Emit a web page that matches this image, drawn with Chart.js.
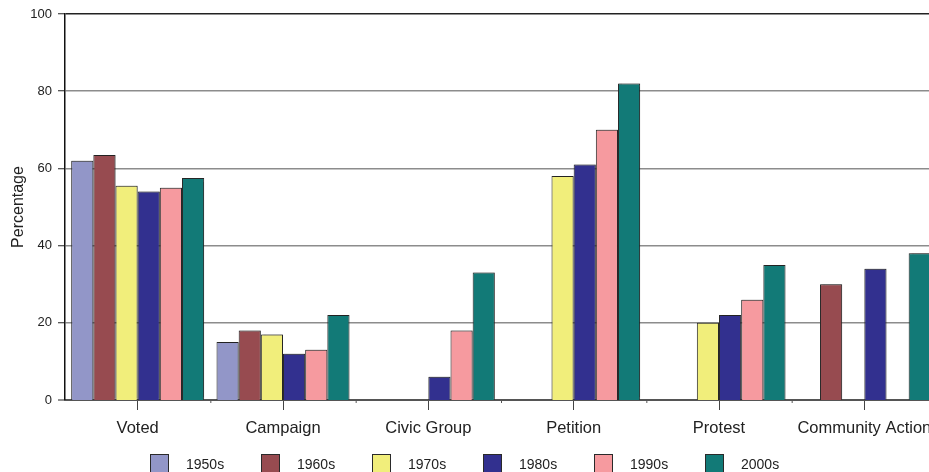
<!DOCTYPE html>
<html>
<head>
<meta charset="utf-8">
<script src="https://cdn.jsdelivr.net/npm/chart.js@4/dist/chart.umd.min.js"></script>
<style>
  html, body { margin: 0; padding: 0; background: #fff; overflow: hidden; width: 929px; height: 472px; }
  #wrap { position: relative; width: 929px; height: 472px; overflow: hidden; }
  canvas { position: absolute; left: 0; top: 0; }
  .lg { position: absolute; top: 454px; height: 20px; font: 14px "Liberation Sans", Arial, sans-serif; color: #222; white-space: nowrap; }
  .lg .box { position: absolute; left: 0; top: 0; width: 19px; height: 19px; border: 1px solid #2a2a2a; box-sizing: border-box; }
  .lg .txt { position: absolute; left: 36px; top: 2px; line-height: 16px; }
</style>
</head>
<body>
<div id="wrap">
  <canvas id="c" width="960" height="472"></canvas>
  <div id="legend"></div>
</div>
<script>
const categories = ["Voted", "Campaign", "Civic Group", "Petition", "Protest", "Community Action"];
const seriesNames = ["1950s", "1960s", "1970s", "1980s", "1990s", "2000s"];
const v1950s = [62, 15, null, null, null, null];
const v1960s = [63.5, 18, null, null, null, 30];
const v1970s = [55.5, 17, null, 58, 20, null];
const v1980s = [54, 12, 6, 61, 22, 34];
const v1990s = [55, 13, 18, 70, 26, null];
const v2000s = [57.5, 22, 33, 82, 35, 38];
const yTicks = [0, 20, 40, 60, 80, 100];
const colors = ["#9296C8", "#974B50", "#F1EE7B", "#32308F", "#F69A9F", "#127A77"];

const seriesValues = [v1950s, v1960s, v1970s, v1980s, v1990s, v2000s];

const datasets = seriesNames.map((name, i) => ({
  label: name,
  data: seriesValues[i],
  backgroundColor: colors[i],
  borderColor: "#2a2a2a",
  borderWidth: 1,
  borderSkipped: "bottom",
  categoryPercentage: 0.915,
  barPercentage: 1.0
}));

const shadowPlugin = {
  id: "barShadow",
  beforeDatasetsDraw(chart) {
    const ctx = chart.ctx;
    ctx.save();
    ctx.shadowColor = "rgba(0,0,0,0.30)";
    ctx.shadowBlur = 1.5;
    ctx.shadowOffsetX = 1;
    ctx.shadowOffsetY = -1;
  },
  afterDatasetsDraw(chart) {
    chart.ctx.restore();
  }
};

const boundaryTicks = {
  id: "boundaryTicks",
  afterDraw(chart) {
    const x = chart.scales.x, ctx = chart.ctx;
    const bottom = chart.chartArea.bottom;
    ctx.save();
    ctx.strokeStyle = "#555";
    ctx.lineWidth = 1;
    for (let i = 1; i < categories.length; i++) {
      const px = (x.getPixelForTick(i - 1) + x.getPixelForTick(i)) / 2;
      ctx.beginPath();
      ctx.moveTo(px + 0.5, bottom);
      ctx.lineTo(px + 0.5, bottom + 3);
      ctx.stroke();
    }
    ctx.restore();
  }
};

new Chart(document.getElementById("c"), {
  type: "bar",
  data: { labels: categories, datasets: datasets },
  plugins: [shadowPlugin, boundaryTicks],
  options: {
    responsive: false,
    animation: false,
    devicePixelRatio: 1,
    layout: { padding: { left: 0, right: 23, top: 14, bottom: 32 } },
    plugins: { legend: { display: false }, tooltip: { enabled: false } },
    scales: {
      x: {
        grid: { display: true, drawOnChartArea: false, drawTicks: true, tickLength: 10, offset: false, color: "#444", lineWidth: 1 },
        border: { display: true, color: "#555", width: 2 },
        ticks: { color: "#222", font: { family: "'Liberation Sans', Arial, sans-serif", size: 16.5 }, padding: 9, maxRotation: 0, autoSkip: false },
        afterFit(scale) { scale.height = 40; }
      },
      y: {
        min: 0, max: 100,
        afterBuildTicks(scale) { scale.ticks = yTicks.map(v => ({ value: v })); },
        grid: {
          color: ctx => (ctx.tick && ctx.tick.value === 100) ? "#222" : "#8c8c8c",
          lineWidth: ctx => (ctx.tick && ctx.tick.value === 0) ? 0 : 1.5,
          tickLength: 7,
          tickColor: "#222",
          tickWidth: 1
        },
        border: { display: true, color: "#111", width: 1.5 },
        ticks: { color: "#222", font: { family: "'Liberation Sans', Arial, sans-serif", size: 13 }, padding: 6 },
        title: { display: true, text: "Percentage", color: "#222", font: { family: "'Liberation Sans', Arial, sans-serif", size: 16 }, padding: { top: 9, bottom: 0 } },
        afterFit(scale) { scale.width = 65; }
      }
    }
  }
});

const legend = document.getElementById("legend");
seriesNames.forEach((name, i) => {
  const item = document.createElement("div");
  item.className = "lg";
  item.style.left = (150 + 111 * i) + "px";
  item.innerHTML = '<span class="box" style="background:' + colors[i] + '"></span><span class="txt">' + name + '</span>';
  legend.appendChild(item);
});
</script>
</body>
</html>
